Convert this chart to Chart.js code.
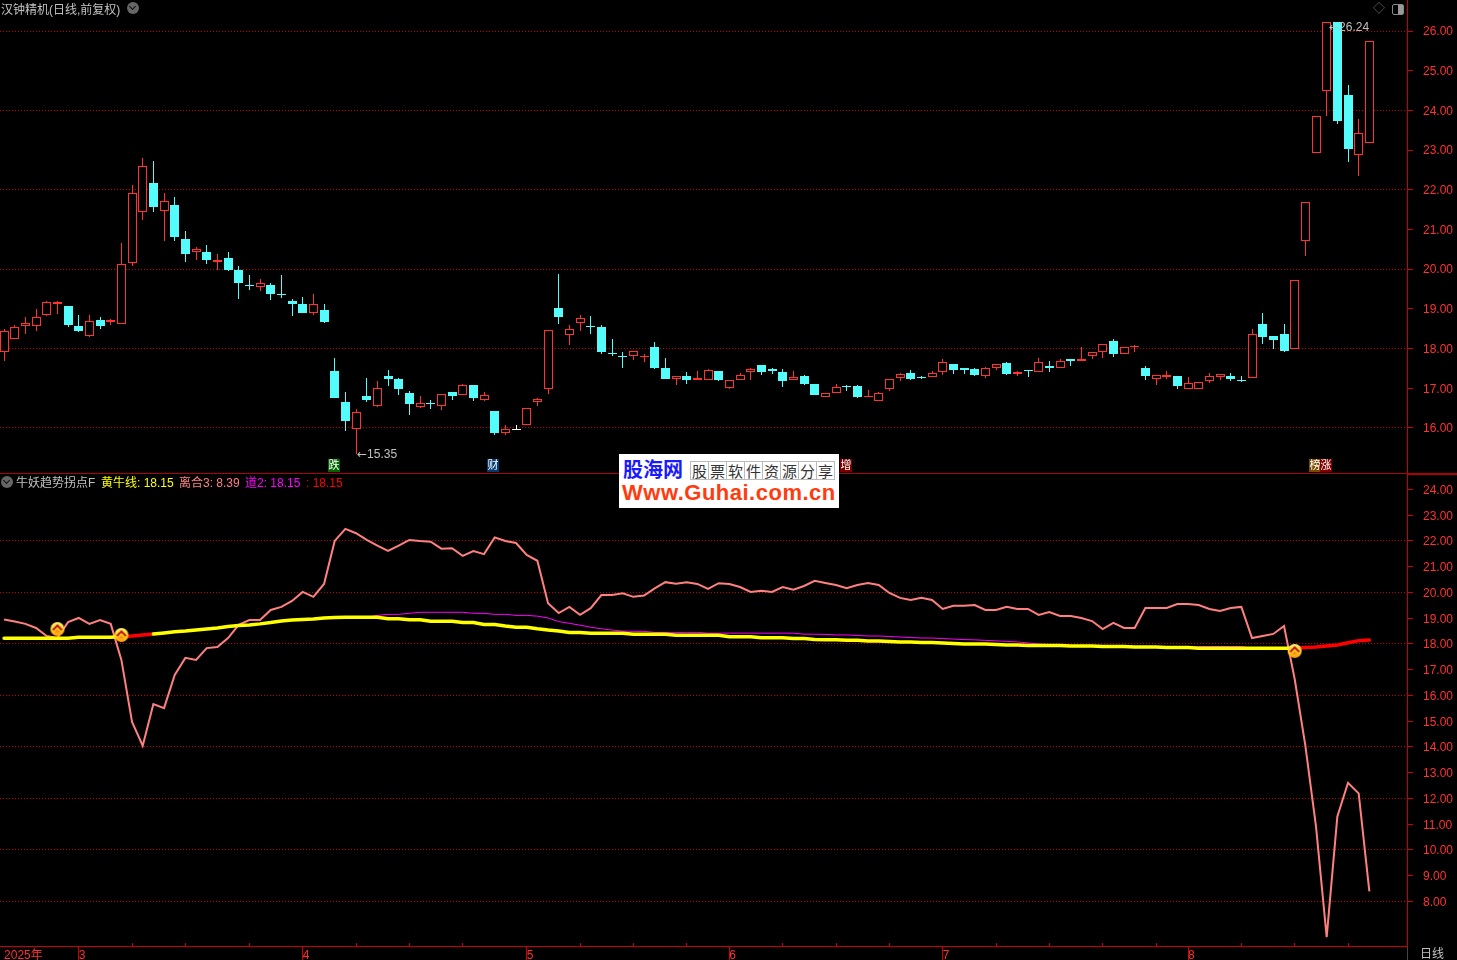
<!DOCTYPE html>
<html>
<head>
<meta charset="utf-8">
<title>汉钟精机</title>
<script src="https://cdn.jsdelivr.net/npm/chart.js@4"></script>
<style>
html, body { margin: 0; padding: 0; background: #000; overflow: hidden; }
body { width: 1457px; height: 960px; position: relative; font: 12px "Liberation Sans", "Noto Sans CJK SC", sans-serif; }
canvas { position: absolute; left: 0; }
.txt { position: absolute; white-space: nowrap; line-height: 14px; z-index: 3; }
.txt i { font: 12px "DejaVu Sans"; }
.linea { position: absolute; background: #b00000; z-index: 2; }
.tag { position: absolute; top: 459px; height: 13px; line-height: 13px; width: 12px; text-align: center; color: #fff; font-size: 11px; z-index: 3; }
.flecha { position: absolute; width: 12px; height: 12px; border-radius: 50%; background: #666; z-index: 3; }
.flecha:after { content: ''; position: absolute; left: 3px; top: 2px; width: 4px; height: 4px; border-right: 1px solid #111; border-bottom: 1px solid #111; transform: rotate(45deg); }
#logo { position: absolute; left: 619px; top: 454px; width: 220px; height: 54px; background: #fff; z-index: 4; }
#logo div { position: absolute; white-space: nowrap; }
#logo .celda { top: 7px; width: 17px; height: 17px; line-height: 17px; border: 1px solid #bbb; margin-right: -1px; text-align: center; color: #333; font: 15px/17px "Noto Sans CJK SC"; }
</style>
</head>
<body>
<canvas id="kline" width="1457" height="474" style="top:0"></canvas>
<canvas id="zhibiao" width="1457" height="486" style="top:474px"></canvas>

<div class="linea" style="left:0;top:473px;width:1457px;height:1px"></div>
<div class="linea" style="left:1408px;top:473px;width:49px;height:2px"></div>
<div style="position:absolute;left:1407px;top:947px;width:1px;height:13px;background:#444"></div>

<div class="txt" style="left:1px;top:3px;color:#c0c0c0">汉钟精机(日线,前复权)</div>
<div class="flecha" style="left:127px;top:2px"></div>
<div class="txt" style="left:1373px;top:2px;color:#666">◇</div>
<div style="position:absolute;left:1392px;top:4px;width:10px;height:9px;border:1px solid #888;border-radius:2px;background:linear-gradient(90deg,#000 50%,#999 50%)"></div>

<div class="flecha" style="left:1px;top:476px"></div>
<div class="txt" style="left:16px;top:476px;color:#c0c0c0">牛妖趋势拐点F</div>
<div class="txt" style="left:101px;top:476px;color:#ffff00">黄牛线: 18.15</div>
<div class="txt" style="left:179px;top:476px;color:#ff8080">离合3: 8.39</div>
<div class="txt" style="left:245px;top:476px;color:#ff00ff">道2: 18.15</div>
<div class="txt" style="left:306px;top:476px;color:#ff0000">: 18.15</div>

<div class="txt" style="left:357px;top:447px;color:#c0c0c0"><i>←</i>15.35</div>
<div class="txt" style="left:1329px;top:20px;color:#c0c0c0"><i>←</i>26.24</div>

<div class="tag" style="left:328px;background:#006400">跌</div>
<div class="tag" style="left:487px;background:#003a70">财</div>
<div class="tag" style="left:840px;background:#7a0000">增</div>
<div class="tag" style="left:1309px;background:#7a4a00">榜</div>
<div class="tag" style="left:1320px;background:#800000">涨</div>

<div class="txt" style="left:1420px;top:947px;color:#c0c0c0">日线</div>

<div id="logo">
  <div style="left:4px;top:2px;font:bold 20px/26px 'Noto Sans CJK SC';color:#1a1aff">股海网</div>
  <div class="celda" style="left:71px">股</div>
  <div class="celda" style="left:89px">票</div>
  <div class="celda" style="left:107px">软</div>
  <div class="celda" style="left:125px">件</div>
  <div class="celda" style="left:143px">资</div>
  <div class="celda" style="left:161px">源</div>
  <div class="celda" style="left:179px">分</div>
  <div class="celda" style="left:197px">享</div>
  <div style="left:3px;top:26px;font:bold 22px/26px 'Liberation Sans';color:#ff3c10;letter-spacing:.5px">Www.Guhai.com.cn</div>
</div>

<script>
// K线数据
const kaipan = [
  17.90,18.25,18.56,18.56,18.84,19.13,19.06,18.58,18.32,18.73,
  18.66,18.63,20.15,21.44,22.16,21.46,21.61,20.77,20.42,20.42,
  20.17,20.29,19.99,19.61,19.54,19.59,19.38,19.21,19.13,18.90,
  18.98,17.44,16.66,15.96,16.81,16.56,17.31,17.24,16.88,16.53,
  16.63,16.56,16.91,16.83,17.09,16.71,16.43,15.86,15.96,16.08,
  16.66,16.99,19.03,18.33,18.65,18.58,18.53,17.89,17.82,17.82,
  17.78,18.05,17.52,17.22,17.31,17.20,17.20,17.44,17.01,17.20,
  17.40,17.59,17.49,17.41,17.20,17.31,17.11,16.77,16.87,17.06,
  17.06,16.78,16.69,16.99,17.25,17.39,17.29,17.27,17.42,17.62,
  17.52,17.49,17.30,17.50,17.64,17.36,17.46,17.40,17.57,17.50,
  17.74,17.68,17.80,17.90,18.20,17.85,18.03,17.52,17.22,17.27,
  17.31,16.99,16.99,17.17,17.27,17.31,17.21,17.25,18.63,18.32,
  18.37,17.98,20.71,22.93,24.50,26.24,24.38,22.88,23.19
];
const shoupan = [
  18.45,18.55,18.65,18.80,19.16,19.18,18.60,18.45,18.70,18.58,
  18.73,20.12,21.93,22.59,21.56,21.73,20.82,20.39,20.52,20.22,
  20.22,19.99,19.66,19.59,19.64,19.38,19.36,19.13,18.90,19.13,
  18.68,16.76,16.18,16.40,16.71,17.00,17.24,16.98,16.61,16.63,
  16.61,16.85,16.81,17.09,16.76,16.82,15.87,15.97,15.96,16.51,
  16.73,18.47,18.80,18.50,18.78,18.53,17.92,17.87,17.79,17.94,
  17.82,17.52,17.24,17.30,17.21,17.25,17.46,17.21,17.21,17.34,
  17.49,17.41,17.44,17.19,17.28,17.11,16.83,16.88,17.04,17.04,
  16.78,16.81,16.88,17.23,17.36,17.24,17.26,17.38,17.66,17.46,
  17.46,17.34,17.51,17.61,17.36,17.41,17.44,17.66,17.52,17.69,
  17.69,17.73,17.91,18.11,17.87,18.04,18.07,17.31,17.33,17.33,
  17.06,17.13,17.15,17.30,17.36,17.24,17.19,18.37,18.30,18.22,
  17.94,19.73,21.70,23.87,26.24,23.74,23.03,23.42,25.76
];
const zuigao = [
  18.50,18.60,18.80,19.00,19.21,19.21,19.08,18.85,18.85,18.80,
  18.75,20.65,22.11,22.79,22.72,21.91,21.81,20.95,20.55,20.62,
  20.37,20.44,20.09,19.86,19.74,19.66,19.86,19.26,19.31,19.38,
  19.13,17.77,16.91,16.47,17.26,17.19,17.46,17.26,16.93,16.81,
  16.71,16.85,16.91,17.11,17.09,16.91,16.43,16.08,16.08,16.51,
  16.76,18.47,19.89,18.60,18.85,18.83,18.60,18.25,17.92,17.94,
  17.87,18.17,17.77,17.30,17.41,17.44,17.49,17.44,17.21,17.39,
  17.52,17.59,17.52,17.49,17.44,17.34,17.11,16.88,17.11,17.09,
  17.09,16.96,16.91,17.23,17.39,17.46,17.31,17.44,17.74,17.62,
  17.52,17.52,17.54,17.61,17.67,17.44,17.46,17.77,17.69,17.74,
  17.74,18.05,17.91,18.11,18.25,18.04,18.10,17.57,17.33,17.44,
  17.31,17.29,17.15,17.39,17.36,17.39,17.31,18.50,18.90,18.32,
  18.63,19.73,21.70,23.87,26.24,26.24,24.64,23.78,25.76
];
const zuidi = [
  17.69,18.25,18.37,18.45,18.81,18.88,18.53,18.42,18.30,18.50,
  18.60,18.63,20.09,21.25,21.45,20.70,20.70,20.19,20.24,20.14,
  19.99,19.96,19.26,19.48,19.46,19.23,19.28,18.83,18.90,18.85,
  18.65,16.76,15.92,15.35,16.66,16.53,17.06,16.83,16.33,16.51,
  16.48,16.45,16.71,16.83,16.68,16.68,15.82,15.82,15.96,16.08,
  16.56,16.86,18.63,18.10,18.45,18.37,17.87,17.82,17.52,17.72,
  17.67,17.49,17.24,17.09,17.11,17.20,17.20,17.19,16.98,17.20,
  17.21,17.34,17.36,17.04,17.20,17.09,16.83,16.77,16.87,16.93,
  16.76,16.78,16.69,16.93,17.19,17.21,17.24,17.27,17.34,17.36,
  17.36,17.31,17.26,17.46,17.34,17.31,17.29,17.40,17.41,17.50,
  17.57,17.68,17.74,17.77,17.79,17.85,17.92,17.21,17.09,17.22,
  16.98,16.99,16.99,17.14,17.21,17.19,17.16,17.25,18.12,17.99,
  17.92,17.98,20.34,22.93,23.85,23.65,22.69,22.34,23.19
];

// 指标数据
const liHe3 = [
  18.95,18.87,18.78,18.62,18.31,18.23,18.85,19.01,18.78,18.93,
  18.78,17.38,14.97,14.05,15.67,15.51,16.80,17.46,17.38,17.84,
  17.88,18.23,18.74,18.93,18.93,19.32,19.44,19.67,20.02,19.83,
  20.33,22.00,22.47,22.30,22.04,21.82,21.61,21.82,22.04,22.00,
  21.97,21.70,21.72,21.42,21.61,21.49,22.14,22.00,21.92,21.46,
  21.23,19.58,19.20,19.44,19.13,19.39,19.90,19.90,19.97,19.83,
  19.88,20.16,20.40,20.34,20.40,20.33,20.14,20.36,20.33,20.21,
  20.02,20.07,20.02,20.21,20.11,20.25,20.45,20.37,20.29,20.17,
  20.29,20.37,20.29,19.98,19.79,19.71,19.79,19.71,19.36,19.48,
  19.48,19.51,19.32,19.32,19.44,19.36,19.36,19.13,19.24,19.09,
  19.09,19.01,18.89,18.58,18.82,18.62,18.62,19.40,19.40,19.40,
  19.55,19.55,19.51,19.36,19.28,19.40,19.44,18.23,18.31,18.39,
  18.70,16.64,14.05,10.91,6.62,11.30,12.61,12.20,8.39
];
const huangNiu = [
  18.22,18.22,18.22,18.22,18.22,18.22,18.22,18.26,18.26,18.26,
  18.26,18.29,18.31,18.35,18.39,18.43,18.47,18.50,18.54,18.58,
  18.62,18.68,18.72,18.74,18.78,18.83,18.89,18.93,18.95,18.97,
  19.01,19.03,19.04,19.04,19.04,19.04,18.98,18.98,18.94,18.94,
  18.88,18.88,18.88,18.83,18.83,18.76,18.76,18.70,18.65,18.65,
  18.59,18.54,18.50,18.45,18.45,18.42,18.42,18.42,18.42,18.38,
  18.38,18.38,18.38,18.34,18.34,18.34,18.34,18.34,18.28,18.28,
  18.28,18.24,18.24,18.24,18.21,18.21,18.17,18.16,18.16,18.14,
  18.14,18.12,18.12,18.10,18.08,18.08,18.06,18.06,18.04,18.02,
  18.00,18.00,18.00,17.98,17.96,17.96,17.94,17.94,17.94,17.94,
  17.92,17.92,17.92,17.90,17.90,17.90,17.88,17.88,17.88,17.86,
  17.86,17.86,17.83,17.83,17.83,17.83,17.83,17.83,17.83,17.83,
  17.83,17.83,17.86,17.88,17.92,17.96,18.05,18.13,18.15
];
const daoEr = [
  18.22,18.22,18.22,18.22,18.22,18.22,18.22,18.26,18.26,18.26,
  18.26,18.29,18.31,18.35,18.39,18.43,18.47,18.50,18.54,18.58,
  18.62,18.68,18.72,18.74,18.78,18.83,18.89,18.93,18.95,18.97,
  19.01,19.03,19.04,19.04,19.04,19.11,19.15,19.15,19.19,19.23,
  19.23,19.23,19.23,19.23,19.19,19.19,19.15,19.15,19.11,19.11,
  19.08,19.01,18.87,18.80,18.73,18.65,18.59,18.54,18.50,18.49,
  18.49,18.45,18.45,18.45,18.45,18.45,18.42,18.42,18.42,18.42,
  18.42,18.42,18.42,18.42,18.42,18.38,18.38,18.37,18.35,18.35,
  18.33,18.31,18.31,18.29,18.27,18.25,18.23,18.23,18.21,18.19,
  18.17,18.16,18.14,18.12,18.10,18.08,18.04,18.00,17.98,17.96,
  17.94,17.92,17.92,17.90,17.90,17.90,17.88,17.88,17.88,17.86,
  17.86,17.86,17.90,17.90,17.90,17.90,17.90,17.83,17.83,17.83,
  17.83,17.83,17.86,17.88,17.92,17.96,18.05,18.13,18.15
];
// 黄牛线转红的区间
const hongDuan = [[11, 14], [121, 128]];
// 拐点图标
const guaiDianX = [5, 11, 121];
const guaiDianY = [18.58, 18.35, 17.73];

// 刻度
const shangKeDu = [16, 17, 18, 19, 20, 21, 22, 23, 24, 25, 26];
const xiaKeDu = [8, 9, 10, 11, 12, 13, 14, 15, 16, 17, 18, 19, 20, 21, 22, 23, 24];
const shangXian = [16, 18, 20, 22, 24, 26];
const xiaXian = [8, 10, 12, 14, 16, 18, 20, 22];
const yueWeiZhi = [0, 7, 28, 49, 68, 88, 111];
const yueBiaoQian = ['2025年', '3', '4', '5', '6', '7', '8'];
const zhouWeiZhi = [12, 17, 23, 33, 38, 43, 54, 59, 64, 73, 78, 83, 93, 98, 103, 108, 116, 121, 126];

const HONG = '#ff3232';
const QING = '#54fcfc';
const XIAN = '#c80000';

function yanSe(i) {
  if (shoupan[i] > kaipan[i]) return HONG;
  if (shoupan[i] < kaipan[i]) return QING;
  return '#ffffff';
}

const xuHao = kaipan.map((v, i) => i);

// x轴两个面板共用
function ejeX(extra) {
  return Object.assign({ type: 'linear', offset: false, min: -0.3797, max: 131.53 }, extra);
}

function ejeY(min, max, keDu, xian) {
  return {
    position: 'right',
    min: min,
    max: max,
    afterBuildTicks: s => { s.ticks = keDu.map(v => ({ value: v })); },
    afterFit: s => { s.width = 50; s.paddingTop = 0; s.paddingBottom = 0; },
    ticks: {
      color: HONG,
      padding: 10,
      labelOffset: 1,
      font: { family: 'Liberation Sans', size: 12 },
      callback: v => v.toFixed(2)
    },
    border: { display: true, color: XIAN, width: 1, dash: [1, 2] },
    grid: {
      tickLength: 6,
      tickColor: XIAN,
      lineWidth: 1,
      color: c => (c.tick && xian.includes(c.tick.value)) ? XIAN : 'rgba(0,0,0,0)'
    }
  };
}

// 把蜡烛对齐到整像素
const duiQi = {
  id: 'duiQi',
  afterDatasetsUpdate(chart) {
    chart.data.datasets.forEach((d, n) => {
      chart.getDatasetMeta(n).data.forEach(el => {
        el.x = Math.floor(el.x) + 0.5;
        el.width = d.barThickness;
        el.y = Math.round(el.y);
        el.base = Math.round(el.base);
        if (el.y === el.base) el.base += 1;
      });
    });
  }
};

// 小刻度
const zhouKeDu = {
  id: 'zhouKeDu',
  afterDraw(chart) {
    const x = chart.scales.x, ctx = chart.ctx, di = chart.chartArea.bottom;
    ctx.save();
    ctx.fillStyle = XIAN;
    zhouWeiZhi.forEach(i => ctx.fillRect(Math.floor(x.getPixelForValue(i)), di - 3, 1, 3));
    ctx.restore();
  }
};

function tuBiao() {
  const c = document.createElement('canvas');
  c.width = 16; c.height = 16;
  const g = c.getContext('2d');
  const f = g.createLinearGradient(0, 1, 0, 15);
  f.addColorStop(0, '#fff27a');
  f.addColorStop(0.55, '#ffd21e');
  f.addColorStop(1, '#ff9a10');
  g.fillStyle = f;
  g.beginPath(); g.arc(8, 8, 7, 0, Math.PI * 2); g.fill();
  g.strokeStyle = '#c01818';
  g.lineWidth = 2;
  g.beginPath(); g.moveTo(3.5, 9); g.lineTo(8, 4.5); g.lineTo(12.5, 9); g.stroke();
  g.fillStyle = '#ff8c14';
  g.beginPath(); g.moveTo(5, 11.5); g.lineTo(8, 8); g.lineTo(11, 11.5); g.closePath(); g.fill();
  return c;
}

Chart.defaults.animation = false;
Chart.defaults.responsive = false;
Chart.defaults.devicePixelRatio = 1;

// 上面K线
new Chart(document.getElementById('kline'), {
  type: 'bar',
  plugins: [duiQi],
  data: {
    datasets: [
      {
        label: '实体',
        order: 1,
        data: xuHao.map(i => ({ x: i, y: [kaipan[i], shoupan[i]] })),
        barThickness: 9,
        grouped: false,
        inflateAmount: 0,
        borderSkipped: false,
        borderWidth: 1,
        borderColor: xuHao.map(yanSe),
        backgroundColor: xuHao.map(i => yanSe(i) === HONG ? '#000000' : yanSe(i))
      },
      {
        label: '影线',
        order: 2,
        data: xuHao.map(i => ({ x: i, y: [zuidi[i], zuigao[i]] })),
        barThickness: 1,
        grouped: false,
        inflateAmount: 0,
        borderSkipped: false,
        borderWidth: 0,
        backgroundColor: xuHao.map(yanSe)
      }
    ]
  },
  options: {
    layout: { padding: 0, autoPadding: false },
    plugins: { legend: { display: false }, tooltip: { enabled: false } },
    scales: {
      x: ejeX({ display: false }),
      y: ejeY(14.838, 26.783, shangKeDu, shangXian)
    }
  }
});

// 下面指标
new Chart(document.getElementById('zhibiao'), {
  type: 'line',
  plugins: [zhouKeDu],
  data: {
    datasets: [
      {
        label: '拐点',
        type: 'scatter',
        order: 1,
        data: guaiDianX.map((x, i) => ({ x: x, y: guaiDianY[i] })),
        pointStyle: tuBiao(),
        pointRadius: 8,
        showLine: false
      },
      {
        label: '黄牛线',
        order: 2,
        data: xuHao.map(i => ({ x: i, y: huangNiu[i] })),
        borderColor: '#ffff00',
        borderWidth: 3.5,
        pointRadius: 0,
        borderCapStyle: 'round',
        segment: {
          borderColor: c => hongDuan.some(r => c.p0DataIndex >= r[0] && c.p0DataIndex < r[1]) ? '#ff0000' : '#ffff00'
        }
      },
      {
        label: '道2',
        order: 3,
        data: xuHao.map(i => ({ x: i, y: daoEr[i] })),
        borderColor: '#ff00ff',
        borderWidth: 1,
        pointRadius: 0
      },
      {
        label: '离合3',
        order: 4,
        data: xuHao.map(i => ({ x: i, y: liHe3[i] })),
        borderColor: '#ff8080',
        borderWidth: 2,
        pointRadius: 0
      }
    ]
  },
  options: {
    layout: { padding: 0, autoPadding: false },
    plugins: { legend: { display: false }, tooltip: { enabled: false } },
    scales: {
      x: ejeX({
        afterBuildTicks: s => { s.ticks = yueWeiZhi.map(v => ({ value: v })); },
        afterFit: s => { s.height = 14; s.paddingLeft = 0; s.paddingRight = 0; },
        border: { display: true, color: XIAN, width: 1 },
        grid: {
          drawOnChartArea: false,
          tickLength: 14,
          tickColor: c => c.tick && c.tick.value === 0 ? 'rgba(0,0,0,0)' : XIAN
        },
        ticks: {
          color: HONG,
          autoSkip: false,
          maxRotation: 0,
          align: 'start',
          padding: -12,
          labelOffset: 0,
          font: { family: "'Liberation Sans', 'Noto Sans CJK SC'", size: 12 },
          callback: v => yueBiaoQian[yueWeiZhi.indexOf(v)]
        }
      }),
      y: ejeY(6.272, 24.6, xiaKeDu, xiaXian)
    }
  }
});
</script>
</body>
</html>
